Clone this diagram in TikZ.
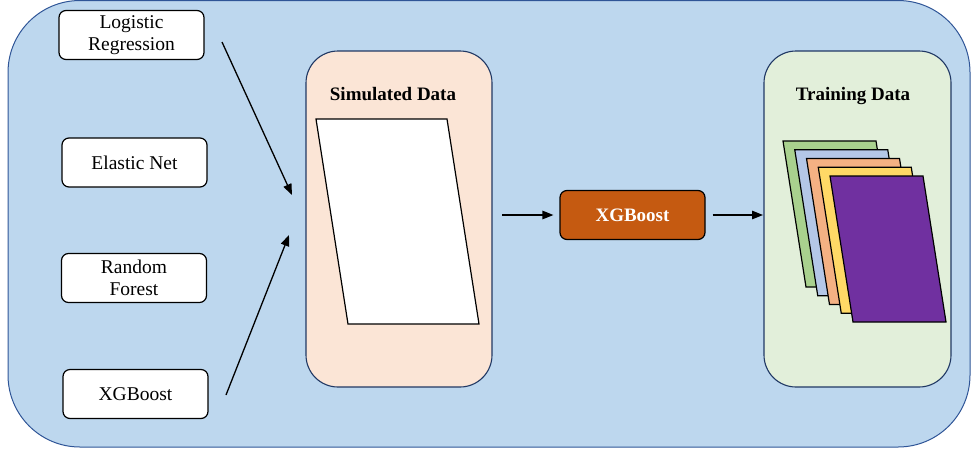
\documentclass[tikz,border=0pt]{standalone}
\usepackage{fontspec}
\setmainfont{Liberation Serif}
\usetikzlibrary{arrows.meta}
\definecolor{outerfill}{HTML}{BDD7EE}
\definecolor{outerline}{HTML}{2F5597}
\definecolor{simfill}{HTML}{FBE5D6}
\definecolor{trainfill}{HTML}{E2EFDA}
\definecolor{panelline}{HTML}{203864}
\definecolor{xgbfill}{HTML}{C55A11}
\definecolor{pgreen}{HTML}{A9D18E}
\definecolor{pblue}{HTML}{B4C7E7}
\definecolor{porange}{HTML}{F4B183}
\definecolor{pyellow}{HTML}{FFD966}
\definecolor{ppurple}{HTML}{7030A0}
\tikzset{
  modelbox/.style={draw=black, fill=white, line width=1.2pt, rounded corners=7pt,
    minimum width=145pt, minimum height=49pt, align=center, inner sep=0pt,
    font=\rmfamily\fontsize{19.5}{22}\selectfont},
  panel/.style={draw=panelline, line width=1.1pt, rounded corners=32pt},
  paneltitle/.style={font=\rmfamily\fontsize{19}{22}\selectfont\bfseries, inner sep=0pt},
  sheet/.style={draw=black, line width=1.2pt},
  flow/.style={draw=black, line width=1.3pt, -{Triangle[length=11pt,width=8.5pt]}},
}
\begin{document}
\begin{tikzpicture}[x=1pt,y=-1pt]
\useasboundingbox (0,0) rectangle (971,448);
% outer background
\draw[fill=outerfill, draw=outerline, line width=1pt, rounded corners=72pt] (8,0.5) rectangle (970,447);

% model boxes
\node[modelbox] (lr) at (131.5,35) {Logistic\\Regression};
\node[modelbox] (en) at (134.5,162.5) {Elastic Net};
\node[modelbox] (rf) at (134,278) {Random\\Forest};
\node[modelbox] (xg) at (135.5,394) {XGBoost};

% simulated data panel
\draw[panel, fill=simfill] (306,51) rectangle (492,387);
\node[paneltitle] (simtitle) at (393,94) {Simulated Data};
\draw[sheet, fill=white] (316,119) -- (447,119) -- (479,324) -- (348,324) -- cycle;
\coordinate (simin1) at (292,195);
\coordinate (simin2) at (289,235);
\coordinate (lrout) at (222,42);
\coordinate (xgout) at (226,395);
\draw[flow] (lrout) -- (simin1);
\draw[flow] (xgout) -- (simin2);

% xgboost centre box
\node[draw=black, fill=xgbfill, line width=1.2pt, rounded corners=7pt,
  minimum width=145pt, minimum height=49pt, inner sep=0pt, text=white,
  font=\rmfamily\fontsize{19}{22}\selectfont\bfseries] (xgb) at (632.5,215) {XGBoost};
\coordinate (simout) at (502,215);
\draw[flow] (simout) -- ([xshift=-6pt]xgb.west);
\coordinate (trainin) at (763,215);
\draw[flow] ([xshift=7pt]xgb.east) -- (trainin);

% training data panel
\draw[panel, fill=trainfill] (764,51) rectangle (951,387);
\node[paneltitle] (traintitle) at (853,96) {Training Data};
\foreach \c [count=\i from 0] in {pgreen,pblue,porange,pyellow,ppurple}{
  \pgfmathsetmacro{\dx}{11.75*\i}
  \pgfmathsetmacro{\dy}{8.75*\i}
  \draw[sheet, fill=\c, shift={(\dx,\dy)}] (783,141) -- (876,141) -- (899,287) -- (806,287) -- cycle;
}
\end{tikzpicture}
\end{document}
